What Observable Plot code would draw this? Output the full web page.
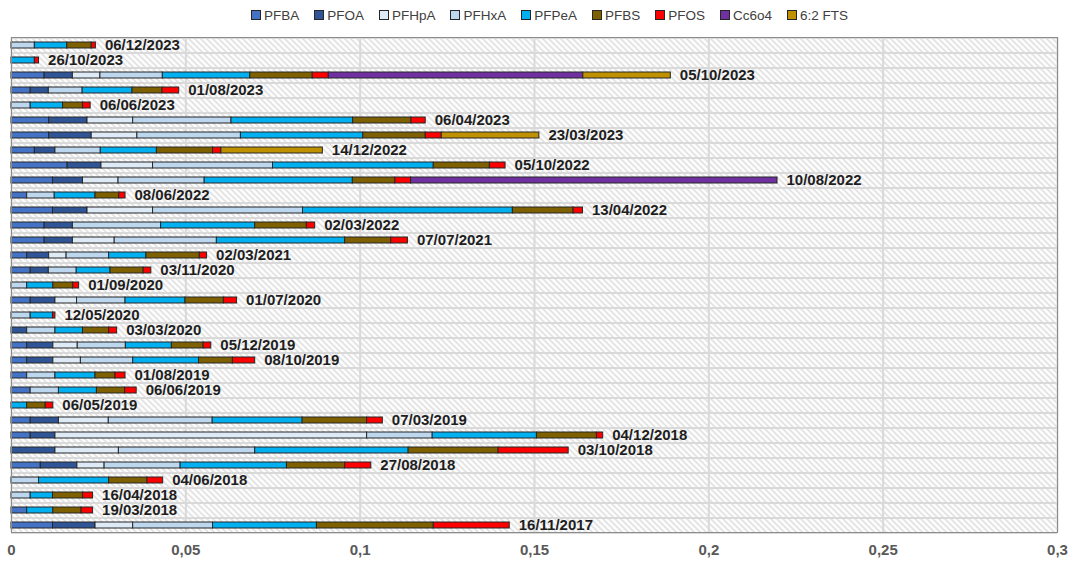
<!DOCTYPE html>
<html><head><meta charset="utf-8">
<script src="https://cdn.jsdelivr.net/npm/d3@7"></script>
<script src="https://cdn.jsdelivr.net/npm/@observablehq/plot@0.6"></script>
<style>
body{margin:0;background:#fff;font-family:"Liberation Sans",Arial,sans-serif}
#legend{height:30px;display:flex;justify-content:center;align-items:center;gap:15px;font-size:13.5px;color:#404040;padding-left:22px;box-sizing:border-box}
.item{display:flex;align-items:center;gap:3px}
.sw{width:8px;height:8px;border:1px solid #262626}
</style></head><body>
<div id="legend"></div><div id="chart"></div>
<script>
const dates = ["06/12/2023","26/10/2023","05/10/2023","01/08/2023","06/06/2023","06/04/2023","23/03/2023","14/12/2022","05/10/2022","10/08/2022","08/06/2022","13/04/2022","02/03/2022","07/07/2021","02/03/2021","03/11/2020","01/09/2020","01/07/2020","12/05/2020","03/03/2020","05/12/2019","08/10/2019","01/08/2019","06/06/2019","06/05/2019","07/03/2019","04/12/2018","03/10/2018","27/08/2018","04/06/2018","16/04/2018","19/03/2018","16/11/2017"];
const seriesNames = ["PFBA","PFOA","PFHpA","PFHxA","PFPeA","PFBS","PFOS","Cc6o4","6:2 FTS"];
const seriesColors = ["#4472C4","#2F5597","#DEEBF7","#BDD7EE","#00B0F0","#7F6000","#FF0000","#7030A0","#BF9000"];
const PFBA  = [0,0,0.0095,0.0055,0,0.0108,0.0108,0.0067,0.0161,0.0119,0.0045,0.0119,0.0095,0.0095,0.0045,0.0055,0,0.0055,0,0,0.0045,0.0045,0.0045,0.0055,0,0.0055,0.0055,0,0.0084,0,0,0.0045,0.0119];
const PFOA  = [0,0,0.0081,0.0052,0,0.0110,0.0122,0.0059,0.0097,0.0086,0,0.0099,0.0081,0.0081,0.0063,0.0052,0,0.0071,0,0.0045,0.0075,0.0075,0,0,0,0.0081,0.0071,0.0126,0.0105,0,0,0,0.0122];
const PFHpA = [0,0,0.0079,0,0,0.0131,0.0131,0,0.0148,0.0102,0,0.0188,0,0.0120,0.0050,0,0,0.0062,0,0,0.0070,0.0079,0,0,0,0.0143,0.0894,0.0182,0.0078,0,0,0,0.0108];
const PFHxA = [0.0067,0,0.0179,0.0097,0.0055,0.0282,0.0297,0.0130,0.0344,0.0247,0.0079,0.0430,0.0253,0.0293,0.0122,0.0080,0.0045,0.0139,0.0055,0.0081,0.0138,0.0150,0.0081,0.0081,0,0.0298,0.0188,0.0391,0.0218,0.0079,0.0055,0,0.0229];
const PFPeA = [0.0093,0.0067,0.0251,0.0143,0.0093,0.0349,0.0351,0.0161,0.0461,0.0425,0.0117,0.0602,0.0270,0.0368,0.0107,0.0097,0.0075,0.0172,0.0064,0.0079,0.0132,0.0189,0.0115,0.0109,0.0045,0.0258,0.0299,0.0440,0.0305,0.0201,0.0064,0.0075,0.0298];
const PFBS  = [0.0070,0,0.0179,0.0086,0.0057,0.0167,0.0179,0.0161,0.0161,0.0122,0.0068,0.0174,0.0148,0.0132,0.0153,0.0095,0.0057,0.0110,0,0.0075,0.0091,0.0097,0.0057,0.0081,0.0053,0.0185,0.0172,0.0258,0.0167,0.0110,0.0086,0.0081,0.0335];
const PFOS  = [0.0012,0.0012,0.0046,0.0048,0.0022,0.0041,0.0046,0.0024,0.0045,0.0045,0.0018,0.0027,0.0024,0.0048,0.0021,0.0022,0.0017,0.0038,0.0007,0.0023,0.0022,0.0064,0.0029,0.0033,0.0022,0.0045,0.0018,0.0201,0.0075,0.0045,0.0029,0.0033,0.0218];
const Cc6o4 = [0,0,0.0730,0,0,0,0,0,0,0.1051,0,0,0,0,0,0,0,0,0,0,0,0,0,0,0,0,0,0,0,0,0,0,0];
const FTS62 = [0,0,0.0251,0,0,0,0.0280,0.0291,0,0,0,0,0,0,0,0,0,0,0,0,0,0,0,0,0,0,0,0,0,0,0,0,0];
const xTicks = [0,0.05,0.1,0.15,0.2,0.25,0.3];

const seriesValues = [PFBA,PFOA,PFHpA,PFHxA,PFPeA,PFBS,PFOS,Cc6o4,FTS62];
const tidy = [];
dates.forEach((d,i)=>seriesNames.forEach((s,j)=>{ const v=seriesValues[j][i]; if(v>0) tidy.push({date:d,series:s,value:v}); }));
const totals = dates.map((d,i)=>({date:d,total:d3.sum(seriesValues,a=>a[i])}));

// legend
const leg = d3.select("#legend");
seriesNames.forEach((s,j)=>{
  const it = leg.append("div").attr("class","item");
  it.append("div").attr("class","sw").style("background",seriesColors[j]);
  it.append("span").text(s);
});

const svg = Plot.plot({
  width:1077, height:540,
  marginTop:7, marginBottom:38, marginLeft:11, marginRight:20,
  style:{fontFamily:"Liberation Sans, Arial, sans-serif", background:"#fff"},
  x:{domain:[0,0.3], ticks:xTicks, tickFormat:d=>String(+d.toFixed(2)).replace(".",","), tickSize:0, tickPadding:12, label:null},
  y:{domain:dates, paddingInner:0.6, paddingOuter:0.3, axis:null},
  color:{domain:seriesNames, range:seriesColors},
  marks:[
    Plot.frame({fill:"url(#hatch)", stroke:"none"}),
    Plot.ruleX(xTicks,{stroke:"#d9d9d9", strokeWidth:2}),
    Plot.ruleY(dates,{y:d=>d, dy:7.5, stroke:"#d9d9d9", strokeWidth:2}),
    Plot.ruleY(dates.slice(0,1),{y:d=>d, dy:-7.5, stroke:"#d9d9d9", strokeWidth:2}),
    Plot.barX(tidy, Plot.stackX({y:"date", x:"value", fill:"series", stroke:"#262626", strokeWidth:1, order:seriesNames})),
    Plot.text(totals,{x:"total", y:"date", text:"date", dx:9, textAnchor:"start", fontSize:15, fontWeight:"bold", fill:"#1e1e1e"}),
    Plot.frame({stroke:"#8c8c8c", strokeWidth:1}),
    Plot.axisX({ticks:xTicks, tickFormat:d=>String(+d.toFixed(2)).replace(".",","), tickSize:0, tickPadding:12, fontSize:15, fontWeight:"bold", fill:"#595959", label:null})
  ]
});
d3.select(svg).insert("defs",":first-child").html('<pattern id="hatch" width="6" height="6" patternUnits="userSpaceOnUse"><rect width="6" height="6" fill="#fff"/><path d="M-1,-1 L7,7 M-1,5 L1,7 M5,-1 L7,1" stroke="#d6d6d6" stroke-width="1.3"/></pattern>');
document.getElementById("chart").appendChild(svg);
</script>
</body></html>
